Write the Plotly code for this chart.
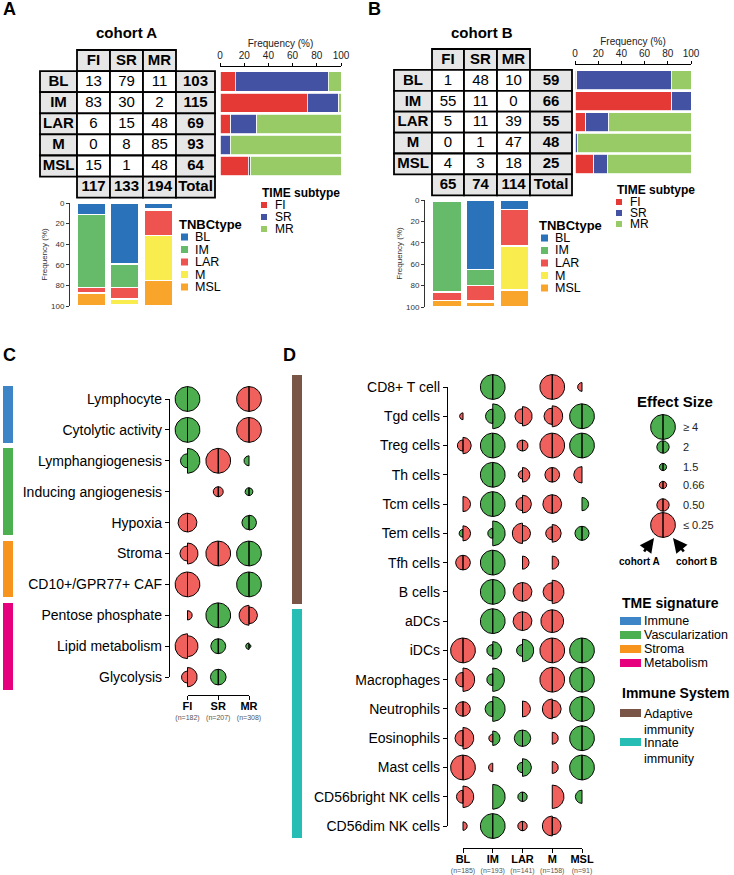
import numpy as np
import plotly.graph_objects as go

W, H = 734, 875
FONT = "Liberation Sans, Arial, sans-serif"

# ------------------------------------------------------------------ data
tnbc_types = ["BL", "IM", "LAR", "M", "MSL"]
time_subtypes = ["FI", "SR", "MR"]
counts_A = [[13, 79, 11], [83, 30, 2], [6, 15, 48], [0, 8, 85], [15, 1, 48]]
counts_B = [[1, 48, 10], [55, 11, 0], [5, 11, 39], [0, 1, 47], [4, 3, 18]]

c_rows = ["Lymphocyte", "Cytolytic activity", "Lymphangiogenesis",
          "Inducing angiogenesis", "Hypoxia", "Stroma", "CD10+/GPR77+ CAF",
          "Pentose phosphate", "Lipid metabolism", "Glycolysis"]
c_cols = ["FI", "SR", "MR"]
c_n = [182, 207, 308]
# effect sizes, cohort A (left half) and cohort B (right half); None = not shown
c_es_A = [
    [4, None, 0.25],
    [4, None, 0.25],
    [2.2, 0.25, 1.75],
    [None, 0.57, 1.55],
    [0.35, None, 2.2],
    [0.43, 0.25, 4],
    [0.25, None, 4],
    [None, 4, 0.33],
    [0.25, 2.3, 1.45],
    [0.51, 2.4, None],
]
c_es_B = [
    [4, None, 0.25],
    [4, None, 0.25],
    [4, 0.25, None],
    [None, 0.57, 1.55],
    [0.35, None, 2.3],
    [0.31, 0.25, 4],
    [0.25, None, 4],
    [0.59, 4, 0.39],
    [0.31, 2.3, 1.25],
    [0.34, 2.4, None],
]
tme_groups = ["Immune", "Vascularization", "Stroma", "Metabolism"]
tme_sizes = [2, 3, 2, 3]

d_rows = ["CD8+ T cell", "Tgd cells", "Treg cells", "Th cells", "Tcm cells",
          "Tem cells", "Tfh cells", "B cells", "aDCs", "iDCs", "Macrophages",
          "Neutrophils", "Eosinophils", "Mast cells", "CD56bright NK cells",
          "CD56dim NK cells"]
d_cols = ["BL", "IM", "LAR", "M", "MSL"]
d_n = [185, 193, 141, 158, 91]
d_es_A = [
    [None, 4, None, 0.25, 0.61],
    [0.68, 2.25, 0.43, 0.40, 4],
    [0.53, 4, 0.54, 0.25, 4],
    [None, 4, 0.62, 0.44, 0.40],
    [None, 4, 0.48, 0.35, None],
    [1.55, 1.75, 0.32, 0.48, 2.2],
    [0.44, 4, None, None, None],
    [None, 4, 0.35, 0.36, None],
    [None, 4, 0.35, 0.28, None],
    [0.25, 1.95, 1.95, 0.25, 4],
    [0.44, 1.95, None, 0.25, 4],
    [0.44, 2.35, None, 0.33, 4],
    [0.41, 0.64, 2.5, None, 4],
    [0.25, 0.62, 1.8, None, 4],
    [0.48, None, 1.7, None, 2.1],
    [None, 4, 0.59, 0.33, None],
]
d_es_B = [
    [None, 4, None, 0.25, None],
    [None, 4, 0.34, 0.31, 4],
    [0.40, 4, 0.54, 0.25, 4],
    [None, 4, 0.44, 0.44, None],
    [0.43, 4, 0.37, 0.35, 2.1],
    [0.43, 4, 0.41, 0.37, 2.2],
    [0.44, 4, 0.48, 0.48, None],
    [None, 4, 0.35, 0.27, None],
    [None, 4, 0.35, 0.28, None],
    [0.25, 2.7, 3.5, 0.25, 4],
    [0.27, 3.7, None, 0.25, 4],
    [0.44, 4, 0.41, 0.37, 4],
    [0.30, 2.25, 2.5, 0.51, 4],
    [0.25, None, 2.7, 0.51, 4],
    [0.30, 4, 1.7, 0.27, None],
    [0.62, 4, 0.59, 0.37, None],
]
immune_groups = ["Adaptive<br>immunity", "Innate<br>immunity"]
immune_sizes = [8, 8]

es_legend_values = [4, 2, 1.5, 0.66, 0.5, 0.25]
es_legend_labels = ["≥ 4", "2", "1.5", "0.66", "0.50", "≤ 0.25"]

# ------------------------------------------------------------------ style
TIME_COLORS = ["#e53935", "#4352a3", "#98cb65"]
TNBC_COLORS = ["#2a72b9", "#66bb6a", "#ef5350", "#f8ec4f", "#f9a52b"]
TME_COLORS = ["#3d85c6", "#4caf50", "#f7941d", "#e6007e"]
IMMUNE_COLORS = ["#795548", "#26bdb4"]
GREEN = "#4cae4f"
RED = "#f0605d"
GRAY = "#e6e6e6"
R_UNIT = 6.2


def dom_x(a, b):
    return [a / W, b / W]


def dom_y(a, b):
    return [1 - b / H, 1 - a / H]


def px(x):
    return x / W


def py(y):
    return 1 - y / H


fig = go.Figure()
layout = dict(
    template="none",
    width=W, height=H, autosize=False,
    margin=dict(l=0, r=0, t=0, b=0, pad=0, autoexpand=False),
    paper_bgcolor="white", plot_bgcolor="rgba(0,0,0,0)",
    showlegend=False, barmode="stack",
    font=dict(family=FONT, color="black"),
)
HID = dict(visible=False, showgrid=False, zeroline=False, automargin=False)
annotations = []
shapes = []


def ann(x, y, text, size=12, xanchor="left", yanchor="middle", color="black"):
    annotations.append(dict(x=px(x), y=py(y), xref="paper", yref="paper",
                            text=text, showarrow=False, xanchor=xanchor,
                            yanchor=yanchor, align=xanchor if xanchor != "center" else "center",
                            font=dict(size=size, color=color)))


def rect(x0, y0, x1, y1, color):
    shapes.append(dict(type="rect", xref="paper", yref="paper",
                       x0=px(x0), x1=px(x1), y0=py(y1), y1=py(y0),
                       fillcolor=color, line=dict(width=0)))


# ------------------------------------------------------------------ canvas axis (pixel units)
layout["xaxis"] = dict(HID, domain=[0, 1], range=[0, W])
layout["yaxis"] = dict(HID, domain=[0, 1], range=[H, 0])

# ------------------------------------------------------------------ tables
TABLES = [
    dict(counts=counts_A, x0=40, y0=50, colw=[37, 33, 33, 33, 39], rowh=21.1),
    dict(counts=counts_B, x0=394, y0=49, colw=[38, 32, 33, 33, 42], rowh=20.9),
]
for T in TABLES:
    counts = T["counts"]
    xe = np.cumsum([T["x0"]] + T["colw"])
    rh = T["rowh"]
    cells = []
    for j, s in enumerate(time_subtypes):
        cells.append((j + 1, 0, "<b>%s</b>" % s, GRAY))
    for i, t in enumerate(tnbc_types):
        cells.append((0, i + 1, "<b>%s</b>" % t, GRAY))
        for j in range(3):
            cells.append((j + 1, i + 1, str(counts[i][j]), "white"))
        cells.append((4, i + 1, "<b>%d</b>" % sum(counts[i]), GRAY))
    nr = len(tnbc_types) + 1
    for j in range(3):
        cells.append((j + 1, nr, "<b>%d</b>" % sum(r[j] for r in counts), GRAY))
    cells.append((4, nr, "<b>Total</b>", GRAY))
    tx, ty, tt = [], [], []
    for c, r, txt, fill in cells:
        y0 = T["y0"] + r * rh
        shapes.append(dict(type="rect", xref="x", yref="y", layer="below",
                           x0=xe[c], x1=xe[c + 1], y0=y0, y1=y0 + rh,
                           fillcolor=fill, line=dict(color="black", width=1.8)))
        tx.append((xe[c] + xe[c + 1]) / 2)
        ty.append(y0 + rh / 2 + 0.5)
        tt.append(txt)
    fig.add_trace(go.Scatter(x=tx, y=ty, text=tt, mode="text",
                             textfont=dict(size=15, color="black"),
                             hoverinfo="skip", xaxis="x", yaxis="y"))

# ------------------------------------------------------------------ horizontal bars (row composition)
TOPBARS = [
    dict(counts=counts_A, ax="2", xdom=(220, 341), top=67, T=TABLES[0]),
    dict(counts=counts_B, ax="4", xdom=(575, 691), top=65, T=TABLES[1]),
]
for tb in TOPBARS:
    T = tb["T"]
    c0 = T["y0"] + 1.5 * T["rowh"]
    bottom = T["y0"] + 6 * T["rowh"]
    yr = [(bottom - c0) / T["rowh"], (tb["top"] - c0) / T["rowh"]]
    a = tb["ax"]
    layout["xaxis" + a] = dict(
        domain=dom_x(*tb["xdom"]), range=[0, 100], side="top", anchor="y" + a,
        showline=True, linecolor="black", linewidth=1, ticks="outside",
        ticklen=3, tickwidth=1, tickcolor="black", automargin=False,
        tickvals=[0, 20, 40, 60, 80, 100], tickfont=dict(size=10, color="#222"),
        title=dict(text="Frequency (%)", font=dict(size=10, color="#222"), standoff=0),
        showgrid=False, zeroline=False)
    layout["yaxis" + a] = dict(HID, domain=dom_y(tb["top"], bottom), range=yr,
                               anchor="x" + a)
    counts = tb["counts"]
    for j, s in enumerate(time_subtypes):
        fig.add_trace(go.Bar(
            orientation="h", y=list(range(len(tnbc_types))),
            x=[counts[i][j] / sum(counts[i]) * 100 for i in range(len(tnbc_types))],
            width=0.92, marker=dict(color=TIME_COLORS[j], line=dict(color="white", width=0.8)),
            xaxis="x" + a, yaxis="y" + a, hoverinfo="skip", name=s))

# ------------------------------------------------------------------ vertical bars (column composition)
BOTBARS = [
    dict(counts=counts_A, ax="3", c0=91.5, step=33.3, xdom=(70, 176), ydom=(203, 306)),
    dict(counts=counts_B, ax="5", c0=447, step=33.75, xdom=(425, 532), ydom=(200, 307)),
]
for bb in BOTBARS:
    a = bb["ax"]
    xr = [(bb["xdom"][0] - bb["c0"]) / bb["step"], (bb["xdom"][1] - bb["c0"]) / bb["step"]]
    layout["xaxis" + a] = dict(HID, domain=dom_x(*bb["xdom"]), range=xr, anchor="y" + a)
    layout["yaxis" + a] = dict(
        domain=dom_y(*bb["ydom"]), range=[100, 0], anchor="x" + a,
        showline=True, linecolor="#333", linewidth=1, ticks="outside", ticklen=3,
        tickwidth=1, tickcolor="#333", tickvals=[0, 20, 40, 60, 80, 100],
        tickfont=dict(size=8, color="#333"), automargin=False,
        title=dict(text="Frequency (%)", font=dict(size=8, color="#333"), standoff=2),
        showgrid=False, zeroline=False)
    counts = bb["counts"]
    colsum = [sum(r[j] for r in counts) for j in range(3)]
    for i, t in enumerate(tnbc_types):
        fig.add_trace(go.Bar(
            x=list(range(3)), y=[counts[i][j] / colsum[j] * 100 for j in range(3)],
            width=0.85, marker=dict(color=TNBC_COLORS[i], line=dict(color="white", width=1.5)),
            xaxis="x" + a, yaxis="y" + a, hoverinfo="skip", name=t))


# ------------------------------------------------------------------ half-circle dot plots
def radius(es):
    return R_UNIT * min(2.0, abs(np.log2(es)))


def half_poly(cx, cy, r, side, ux, uy, n=36):
    if side == "L":
        th = np.linspace(np.pi / 2, 3 * np.pi / 2, n)
    else:
        th = np.linspace(-np.pi / 2, np.pi / 2, n)
    xs = list(cx + r * np.cos(th) / ux)
    ys = list(cy + r * np.sin(th) / uy)
    return xs + [xs[0], None], ys + [ys[0], None]


def add_halves(es_A, es_B, ux, uy, xa, ya):
    pts = {GREEN: ([], []), RED: ([], [])}
    for i in range(len(es_A)):
        for j in range(len(es_A[i])):
            for side, es in (("L", es_A[i][j]), ("R", es_B[i][j])):
                if es is None:
                    continue
                col = GREEN if es > 1 else RED
                xs, ys = half_poly(j, i, radius(es), side, ux, uy)
                pts[col][0].extend(xs)
                pts[col][1].extend(ys)
    for col, (xs, ys) in pts.items():
        if xs:
            fig.add_trace(go.Scatter(x=xs, y=ys, mode="lines", fill="toself",
                                     fillcolor=col, line=dict(color="black", width=1),
                                     xaxis=xa, yaxis=ya, hoverinfo="skip"))


DOTS = [
    dict(rows=c_rows, cols=c_cols, n=c_n, A=c_es_A, B=c_es_B,
         cx0=187.5, ux=30.75, cy0=399, uy=30.9, xdom=(168, 268), ydom=(378, 700),
         axc="6", axb="7", axg="10", linex=169, liney=695, labfont=14,
         groups=tme_sizes, gcolors=TME_COLORS, gx=(3, 13)),
    dict(rows=d_rows, cols=d_cols, n=d_n, A=d_es_A, B=d_es_B,
         cx0=463, ux=29.75, cy0=387, uy=29.27, xdom=(445, 605), ydom=(366, 845),
         axc="8", axb="9", axg="11", linex=447, liney=848, labfont=14,
         groups=immune_sizes, gcolors=IMMUNE_COLORS, gx=(292, 302)),
]
for D in DOTS:
    a, b, g = D["axc"], D["axb"], D["axg"]
    nrow, ncol = len(D["rows"]), len(D["cols"])
    xr = [(D["xdom"][0] - D["cx0"]) / D["ux"], (D["xdom"][1] - D["cx0"]) / D["ux"]]
    yr = [(D["ydom"][1] - D["cy0"]) / D["uy"], (D["ydom"][0] - D["cy0"]) / D["uy"]]
    layout["xaxis" + a] = dict(HID, domain=dom_x(*D["xdom"]), range=xr, anchor="y" + a)
    layout["yaxis" + a] = dict(HID, domain=dom_y(*D["ydom"]), range=yr, anchor="x" + a)
    add_halves(D["A"], D["B"], D["ux"], D["uy"], "x" + a, "y" + a)

    # bracket axes carrying the category labels
    x_end = D["cx0"] + (ncol - 1) * D["ux"]
    y_end = D["cy0"] + (nrow - 1) * D["uy"]
    layout["xaxis" + b] = dict(
        domain=dom_x(D["cx0"], x_end), range=[0, ncol - 1], anchor="free",
        position=py(D["liney"]), showline=True, linecolor="black", linewidth=1.3,
        ticks="outside", ticklen=4, tickwidth=1.3, tickcolor="black",
        tickvals=list(range(ncol)), automargin=False,
        ticktext=["<span style='font-size:11px'><b>%s</b></span><br>"
                  "<span style='font-size:7px;color:#555'>(n=%d)</span>" % (c, n)
                  for c, n in zip(D["cols"], D["n"])],
        tickfont=dict(size=8, color="black"), showgrid=False, zeroline=False)
    layout["yaxis" + b] = dict(
        domain=dom_y(D["cy0"], y_end), range=[nrow - 1, 0], anchor="free",
        position=px(D["linex"]), showline=True, linecolor="black", linewidth=1.3,
        ticks="outside", ticklen=4, tickwidth=1.3, tickcolor="black",
        tickvals=list(range(nrow)), ticktext=D["rows"], automargin=False,
        tickfont=dict(size=D["labfont"], color="black"), showgrid=False, zeroline=False)
    fig.add_trace(go.Scatter(x=[0], y=[0], mode="markers", marker=dict(opacity=0),
                             xaxis="x" + b, yaxis="y" + b, hoverinfo="skip"))

    # group colour bars
    layout["xaxis" + g] = dict(HID, domain=dom_x(*D["gx"]), range=[0, 1], anchor="y" + a)
    starts = np.cumsum([0] + D["groups"][:-1])
    centers = [s + (n - 1) / 2 for s, n in zip(starts, D["groups"])]
    widths = [n - 0.18 for n in D["groups"]]
    fig.add_trace(go.Bar(orientation="h", x=[1] * len(D["groups"]), y=centers,
                         width=widths, marker=dict(color=D["gcolors"], line=dict(width=0)),
                         xaxis="x" + g, yaxis="y" + a, hoverinfo="skip"))

# ------------------------------------------------------------------ effect size legend (canvas, px)
es_y = [427, 447, 467, 485, 505, 525]
pts = {GREEN: ([], []), RED: ([], [])}
for v, y in zip(es_legend_values, es_y):
    col = GREEN if v > 1 else RED
    for side in ("L", "R"):
        xs, ys = half_poly(663, y, radius(v), side, 1, 1)
        pts[col][0].extend(xs)
        pts[col][1].extend(ys)
for col, (xs, ys) in pts.items():
    fig.add_trace(go.Scatter(x=xs, y=ys, mode="lines", fill="toself", fillcolor=col,
                             line=dict(color="black", width=1), xaxis="x", yaxis="y",
                             hoverinfo="skip"))
for lab, y in zip(es_legend_labels, es_y):
    ann(681, y, lab, size=11, color="#222")
ann(675, 401, "<b>Effect Size</b>", size=15, xanchor="center")
ann(639, 561, "<b>cohort A</b>", size=10, xanchor="center")
ann(696, 561, "<b>cohort B</b>", size=10, xanchor="center")
for hx, tx in ((654, 643), (673, 685)):
    annotations.append(dict(x=px(hx), y=py(538), xref="paper", yref="paper", text="",
                            showarrow=True, ax=tx - hx, ay=15, arrowhead=2,
                            arrowsize=1.1, arrowwidth=2.6, arrowcolor="black"))

# ------------------------------------------------------------------ other legends
# TIME subtype
for x0, ytitle, ys in ((260, 193, [205, 217, 229]), (615, 190, [202, 213, 224])):
    ann(x0, ytitle, "<b>TIME subtype</b>", size=12)
    for s, c, y in zip(time_subtypes, TIME_COLORS, ys):
        rect(x0 + 1, y - 3, x0 + 7, y + 3, c)
        ann(x0 + 13, y, s, size=12)
# TNBCtype
for x0, ytitle, ys in ((177, 225, [237, 249.5, 262, 274.5, 287]),
                       (537, 226, [238, 250.5, 263, 275.5, 288])):
    ann(x0, ytitle, "<b>TNBCtype</b>", size=13)
    for t, c, y in zip(tnbc_types, TNBC_COLORS, ys):
        rect(x0 + 4, y - 3.5, x0 + 11, y + 3.5, c)
        ann(x0 + 16, y, t, size=12.5)
# TME signature
ann(620, 603, "<b>TME signature</b>", size=14)
for t, c, y in zip(tme_groups, TME_COLORS, [621, 635, 649, 663]):
    rect(620, y - 4, 641, y + 4, c)
    ann(642, y, t, size=12.5)
# Immune System
ann(620, 693, "<b>Immune System</b>", size=14)
for t, c, y in zip(immune_groups, IMMUNE_COLORS, [713, 742]):
    rect(620, y - 4, 641, y + 4, c)
    ann(642, y - 8, t, size=12.5, yanchor="top")

# titles and panel letters
ann(126, 33, "<b>cohort A</b>", size=15, xanchor="center")
ann(482, 33, "<b>cohort B</b>", size=15, xanchor="center")
ann(1, 9, "<b>A</b>", size=18)
ann(366, 9, "<b>B</b>", size=18)
ann(1, 355, "<b>C</b>", size=18)
ann(281, 355, "<b>D</b>", size=18)

layout["annotations"] = annotations
layout["shapes"] = shapes
for tr in fig.data:
    tr.showlegend = False
fig.update_layout(**layout)
fig.write_html("out.html", config={"displayModeBar": False},
               post_script="document.body.style.margin='0px';document.body.style.padding='0px';")
